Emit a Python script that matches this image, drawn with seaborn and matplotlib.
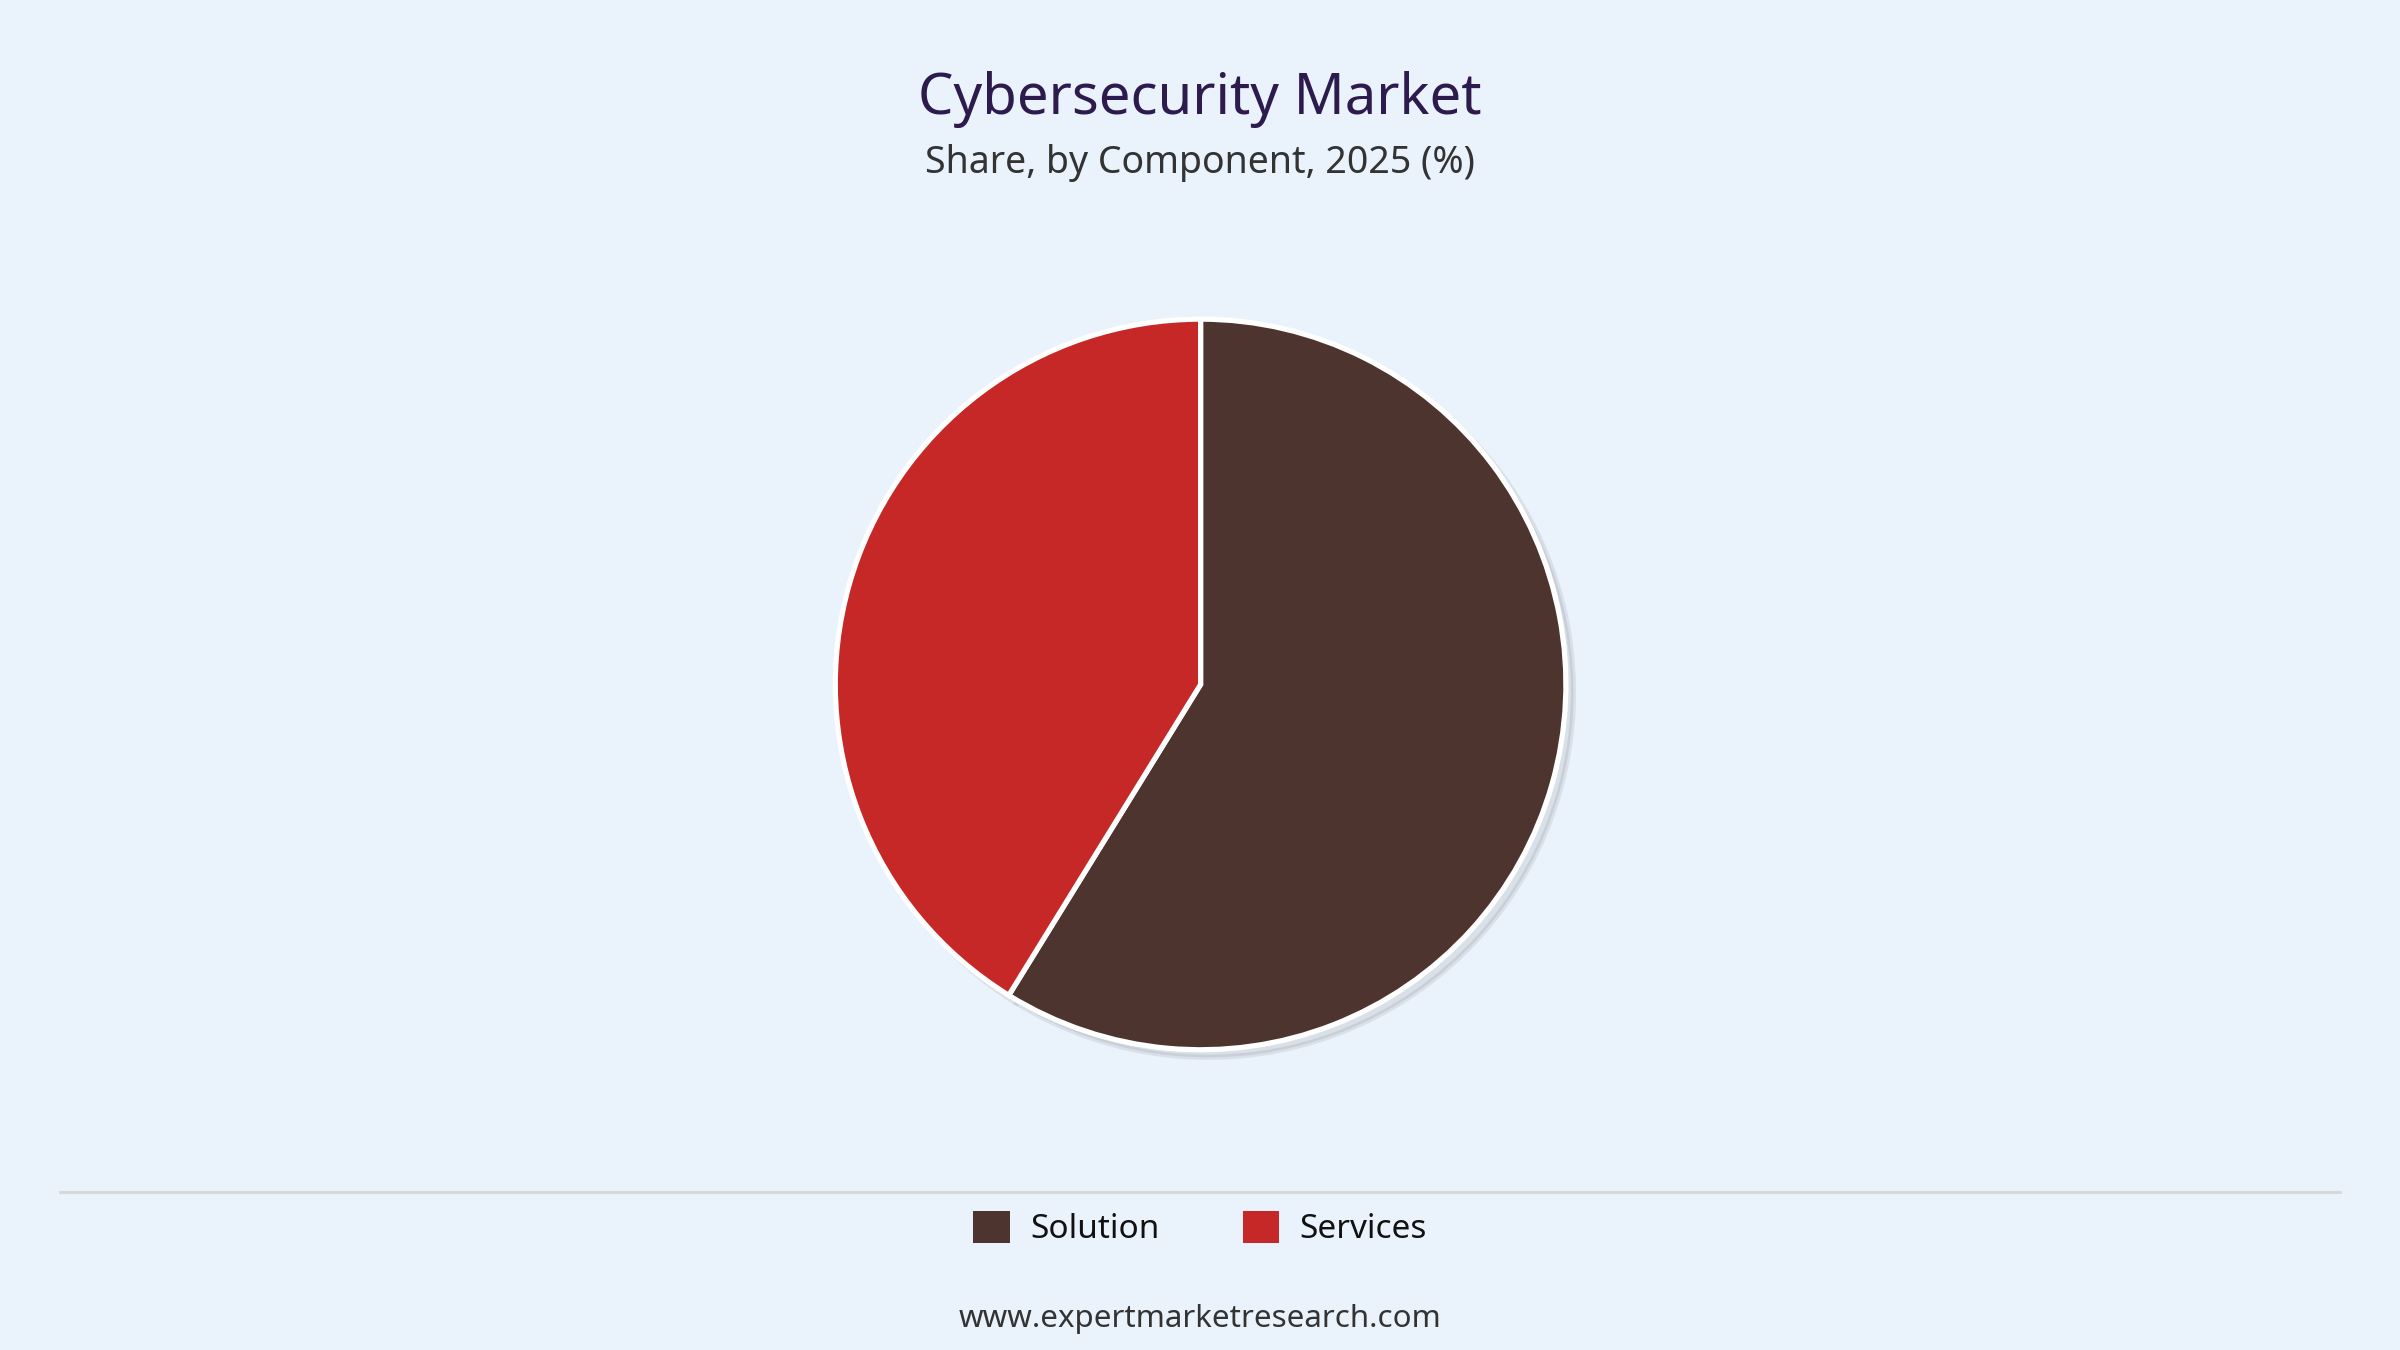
import matplotlib
matplotlib.use("Agg")
import matplotlib.pyplot as plt
import seaborn as sns
from matplotlib.patches import Patch
from matplotlib.lines import Line2D

sns.set_theme(style="white")
plt.rcParams['font.family'] = ['Noto Sans', 'DejaVu Sans']

categories = ["Solution", "Services"]
shares = [58.8, 41.2]
colors = ["#4E342E", "#C62828"]
bg = "#EAF2FB"

fig = plt.figure(figsize=(16, 9), dpi=150, facecolor=bg)
ax = fig.add_axes([0.345, 0.217, 0.3105, 0.552])
ax.set_facecolor(bg)
ax.pie(shares, colors=colors, startangle=90, counterclock=False,
       wedgeprops=dict(edgecolor="white", linewidth=2.5), shadow=dict(alpha=0.08, ox=0.01, oy=-0.01))
ax.set_aspect("equal")
ax.set_xlim(-1.02, 1.02); ax.set_ylim(-1.02, 1.02)
ax.axis("off")

fig.text(0.5, 0.926, "Cybersecurity Market", ha="center", va="center",
         fontsize=27, fontweight="bold", color="#2D1B4E")
fig.text(0.5, 0.879, "Share, by Component, 2025 (%)", ha="center", va="center",
         fontsize=18, fontweight="bold", color="#333333")
fig.add_artist(Line2D([0.025, 0.975], [0.117, 0.117], color="#d8d8d8", lw=1.5))
handles = [Patch(facecolor=c, edgecolor="none", label=l) for c, l in zip(colors, categories)]
leg = fig.legend(handles=handles, loc="center", bbox_to_anchor=(0.5, 0.09), ncol=2,
                 frameon=False, fontsize=16, handlelength=1.1, handleheight=1.1,
                 columnspacing=2.5, handletextpad=0.6)
for t in leg.get_texts():
    t.set_fontweight("bold"); t.set_color("#111111")
fig.text(0.5, 0.023, "www.expertmarketresearch.com", ha="center", va="center",
         fontsize=15, fontweight="bold", color="#333333")
fig.savefig("out.png", dpi=150, facecolor=bg)
